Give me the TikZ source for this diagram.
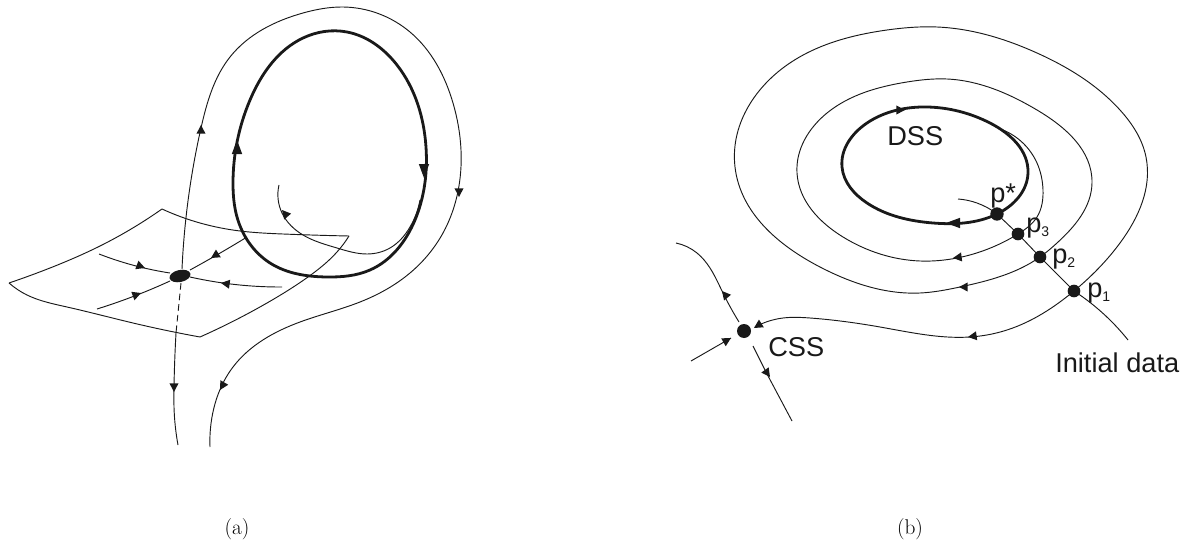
\documentclass[tikz,border=0pt]{standalone}
\usepackage{fontspec}
\usetikzlibrary{calc,shapes.geometric,hobby}
\newfontfamily\arialfont{Liberation Sans}
\newcommand{\tipmark}[2]{\fill[black!90] (#1) -- ($(#1)!6.5pt!(#2)!3.4pt!90:(#1)$) -- ($(#1)!6.5pt!(#2)!3.4pt!-90:(#1)$) -- cycle;}
\newcommand{\tipbig}[2]{\fill[black!90] (#1) -- ($(#1)!10.5pt!(#2)!3.9pt!90:(#1)$) -- ($(#1)!10.5pt!(#2)!3.9pt!-90:(#1)$) -- cycle;}
\newcommand{\lowidx}[1]{{\fontsize{10.5}{10.5}\selectfont\raisebox{-3pt}{#1}}}
\tikzset{
  thinline/.style={draw=black!90,line width=0.7pt,line join=round,use Hobby shortcut},
  thickline/.style={draw=black!90,line width=2.1pt,line join=round,use Hobby shortcut,closed=true},
  dot/.style={circle,fill=black!90,inner sep=0pt,minimum size=10.5pt},
  lab/.style={font=\arialfont\fontsize{20.4}{22}\selectfont,inner sep=0pt,text=black!90,anchor=base west},
  subcap/.style={font=\fontsize{16}{18}\selectfont,inner sep=0pt}
}
\begin{document}
\begin{tikzpicture}[x=0.75pt,y=-0.75pt]
\useasboundingbox (0,0) rectangle (1186,542);
% ---- panel (a) ----
\draw[thinline] (9,283) .. (50,268) .. (100,246) .. (162,209);
\draw[thinline] (162,209) .. (200,223) .. (240,231) .. (283,234) .. (349,236);
\draw[thinline] (349,236) .. (337,252) .. (308,277) .. (267,303) .. (200,337);
\draw[thinline] (200,337) .. (133,323) .. (67,307) .. (27,295) .. (9,283);
\coordinate (vt) at (182,269);
\coordinate (vb) at (181,283);
\coordinate (vm) at (176,333);
\draw[thinline] (vt) .. (201,128) .. (230,57) .. (303,13) .. (343,7) .. (410,32) .. (453,103) .. (461,150) .. (443,233) .. (410,273) .. (360,302) .. (300,322) .. (233,367) .. (212,417) .. (210,447);
\draw[draw=black!90,line width=0.7pt,dash pattern=on 5pt off 3pt] (vb) -- (vm);
\draw[thinline] (vm) .. (174,387) .. (174,407) .. (178,445);
\draw[thickline] (233,183) .. (250,100) .. (303,38) .. (347,32) .. (397,65) .. (426,147) .. (415,220) .. (370,270) .. (327,277) .. (270,263) .. (237,217);
\draw[thinline] (279,185) .. (282,213) .. (303,235) .. (337,248) .. (367,254) .. (390,248) .. (410,227) .. (420,200);
\draw[thinline] (99,254) .. (140,267) .. (170,273);
\draw[thinline] (97,309) .. (137,295) .. (170,281);
\draw[thinline] (247,237) .. (215,256) .. (190,270);
\draw[thinline] (282,287) .. (223,283) .. (190,277);
\node[ellipse,fill=black!90,inner sep=0pt,minimum width=16pt,minimum height=9pt,rotate=12] (sad) at (180,276) {};
\tipbig{237,140}{237,153}
\tipbig{424,178}{424,166}
\tipmark{201,125}{201,132}
\tipmark{459,197}{459,191}
\tipmark{282,210}{288,217}
\tipmark{174,392}{174,383}
\tipmark{220,390}{224,383}
\tipmark{145,268}{137,265}
\tipmark{141,293}{133,296}
\tipmark{211,258}{219,253}
\tipmark{221,283}{228,284}
\node[subcap] (capa) at (237,529) {(a)};
% ---- panel (b) ----
\coordinate (q0) at (958,199);
\coordinate (qs) at (997,214);
\coordinate (q3) at (1018,234);
\coordinate (q2) at (1040,257);
\coordinate (q1) at (1074,291);
\coordinate (qe) at (1128,340);
\draw[thinline] (q0) .. (977,203) .. (qs);
\draw[draw=black!90,line width=0.7pt] (qs) -- (q3) -- (q2) -- (q1);
\draw[thinline] (q1) .. (1110,320) .. (qe);
\draw[thickline] (842,167) .. (867,123) .. (927,107) .. (990,123) .. (1028,173) .. (997,214) .. (933,223) .. (867,203);
\draw[thinline] (1003,130) .. (1037,163) .. (1043,190) .. (1037,217) .. (q3) .. (957,258) .. (920,261) .. (843,237) .. (797,173) .. (827,113) .. (907,82) .. (947,79) .. (1037,110) .. (1092,183) .. (1057,243) .. (q2) .. (960,287) .. (920,293) .. (820,267) .. (735,167) .. (787,65) .. (887,30) .. (937,27) .. (1037,53) .. (1120,110) .. (1146,157) .. (1120,243) .. (q1) .. (1007,330) .. (970,337) .. (880,327) .. (810,318) .. (783,318) .. (755,327);
\node[dot,minimum size=10pt] (ps) at (qs) {};
\node[dot,minimum size=9.5pt] (p3) at (q3) {};
\node[dot,minimum size=9.5pt] (p2) at (q2) {};
\node[dot,minimum size=9.5pt] (p1) at (q1) {};
\node[dot] (css) at (744,331) {};
\draw[thinline] (739,322) .. (723,293) .. (710,268) .. (697,253) .. (676,243);
\draw[draw=black!90,line width=0.7pt] (753,346) -- (767,374) -- (792,421);
\draw[draw=black!90,line width=0.7pt] (691,361) -- (731,338);
\tipmark{905,110}{896,110}
\tipbig{946,223}{956,223}
\tipmark{953,258}{961,257}
\tipmark{959,287}{966,287}
\tipmark{968,337}{975,336}
\tipmark{754,328}{762,323}
\tipmark{722,291}{727,297}
\tipmark{770,377}{765,370}
\tipmark{731,338}{724,342}
\node[lab] (dss) at (887,146) {DSS};
\node[lab] (csst) at (768,356) {CSS};
\node[lab] (pstar) at (990,202) {p*};
\node[lab] (pt3) at (1026,232) {p\lowidx{3}};
\node[lab] (pt2) at (1052,263) {p\lowidx{2}};
\node[lab] (pt1) at (1087,297) {p\lowidx{1}};
\node[lab] (init) at (1055,372) {Initial data};
\node[subcap] (capb) at (910,529) {(b)};
\end{tikzpicture}
\end{document}
